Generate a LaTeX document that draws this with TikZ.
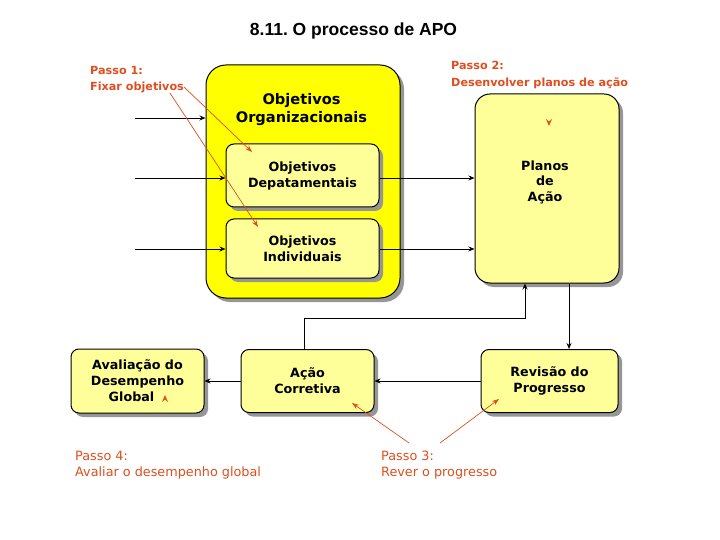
\documentclass[tikz,border=0pt]{standalone}
\usepackage{fontspec}
\setmainfont{Liberation Sans}
\newfontfamily\dvs{DejaVu Sans}
\usetikzlibrary{arrows.meta,shadows}
\definecolor{orng}{RGB}{222,78,30}
\definecolor{ylw}{RGB}{255,255,0}
\definecolor{lylw}{RGB}{255,255,153}
\definecolor{shd}{RGB}{150,150,150}
\tikzset{
  sbox/.style={draw=black, line width=1pt, fill=lylw, rounded corners=8pt, align=center,
    inner sep=0pt, font=\dvs\bfseries\fontsize{12.7}{16}\selectfont,
    drop shadow={shadow xshift=4pt, shadow yshift=-4pt, fill=shd, opacity=1}},
  bigbox/.style={sbox, fill=ylw, rounded corners=20pt},
  arr/.style={draw=black, line width=0.9pt, -{Stealth[length=6pt,width=5pt]}},
  oarr/.style={draw=orng, line width=0.7pt, -{Stealth[length=7pt,width=5pt]}},
  steptxt/.style={text=orng, align=left, anchor=west, inner sep=0pt},
}
\begin{document}
\begin{tikzpicture}[x=1pt,y=-1pt]
\useasboundingbox (0,0) rectangle (720,540);
% title
\node[font=\bfseries\fontsize{17.5}{20}\selectfont] (title) at (353.5,31) {\frenchspacing 8.11. O processo de APO};
% boxes
\node[bigbox, minimum width=194pt, minimum height=233pt] (big) at (303,181.5) {};
\node[font=\dvs\bfseries\fontsize{14.6}{18}\selectfont, align=center] (bigt) at (301.5,110) {Objetivos\\Organizacionais};
\node[sbox, minimum width=153pt, minimum height=63pt] (dept) at (302.5,175.5) {Objetivos\\Depatamentais};
\node[sbox, minimum width=153pt, minimum height=59pt] (ind) at (302.5,248.5) {Objetivos\\Individuais};
\node[sbox, rounded corners=15pt, minimum width=144pt, minimum height=189pt] (plan) at (547,188.5) {};
\node[font=\dvs\bfseries\fontsize{12.7}{15.5}\selectfont, align=center] (plant) at (545,182) {Planos\\de\\Ação};
\node[sbox, minimum width=133pt, minimum height=64pt] (aval) at (137.5,381) {Avaliação do\\Desempenho\\Global\hspace*{12pt}};
\node[sbox, minimum width=133pt, minimum height=63pt] (acao) at (307.5,381) {Ação\\Corretiva};
\node[sbox, minimum width=137pt, minimum height=63pt] (rev) at (549.5,381) {Revisão do\\Progresso};
% step texts
\node[steptxt, font=\dvs\bfseries\fontsize{11.2}{15.3}\selectfont] (p1) at (90,79.5) {Passo 1:\\Fixar objetivos};
\node[steptxt, font=\dvs\bfseries\fontsize{11.2}{17.7}\selectfont] (p2) at (451,75) {Passo 2:\\Desenvolver planos de ação};
\node[steptxt, font=\dvs\fontsize{12.8}{16}\selectfont] (p3) at (381,465) {Passo 3:\\Rever o progresso};
\node[steptxt, font=\dvs\fontsize{12.8}{16}\selectfont] (p4) at (75,465) {Passo 4:\\Avaliar o desempenho global};
% input arrows
\coordinate (i1) at (135,118);
\coordinate (i2) at (135,178);
\coordinate (i3) at (135,249);
\draw[arr] (i1) -- (i1 -| big.west);
\draw[arr] (i2) -- (i2 -| dept.west);
\draw[arr] (i3) -- (i3 -| ind.west);
\draw[arr] (dept.east |- i2) -- (plan.west |- i2);
\draw[arr] (ind.east |- i3) -- (plan.west |- i3);
% bottom arrows
\draw[arr] (rev.west) -- (acao.east);
\draw[arr] (acao.west) -- (aval.east);
\coordinate (k1) at (304,318);
\coordinate (k2) at (525,318);
\coordinate (k3) at (569,300);
\draw[arr] (acao.north -| k1) -- (k1) -- (k2) -- (plan.south -| k2);
\draw[arr] (plan.south -| k3) -- (rev.north -| k3);
% orange step arrows
\coordinate (a1) at (184,87);
\coordinate (a2) at (252,152);
\coordinate (a3) at (170,93);
\coordinate (a4) at (258,227);
\coordinate (b1) at (409,443);
\coordinate (b2) at (352,403);
\coordinate (b3) at (440,443);
\coordinate (b4) at (499,399);
\draw[oarr] (a1) -- (a2);
\draw[oarr] (a3) -- (a4);
\draw[oarr] (b1) -- (b2);
\draw[oarr] (b3) -- (b4);
% small orange marks
\fill[orng] (546,119) -- (549,121.5) -- (552,119) -- (549,126) -- cycle;
\fill[orng] (162,402) -- (165,399.5) -- (168,402) -- (165,395) -- cycle;
\end{tikzpicture}
\end{document}
